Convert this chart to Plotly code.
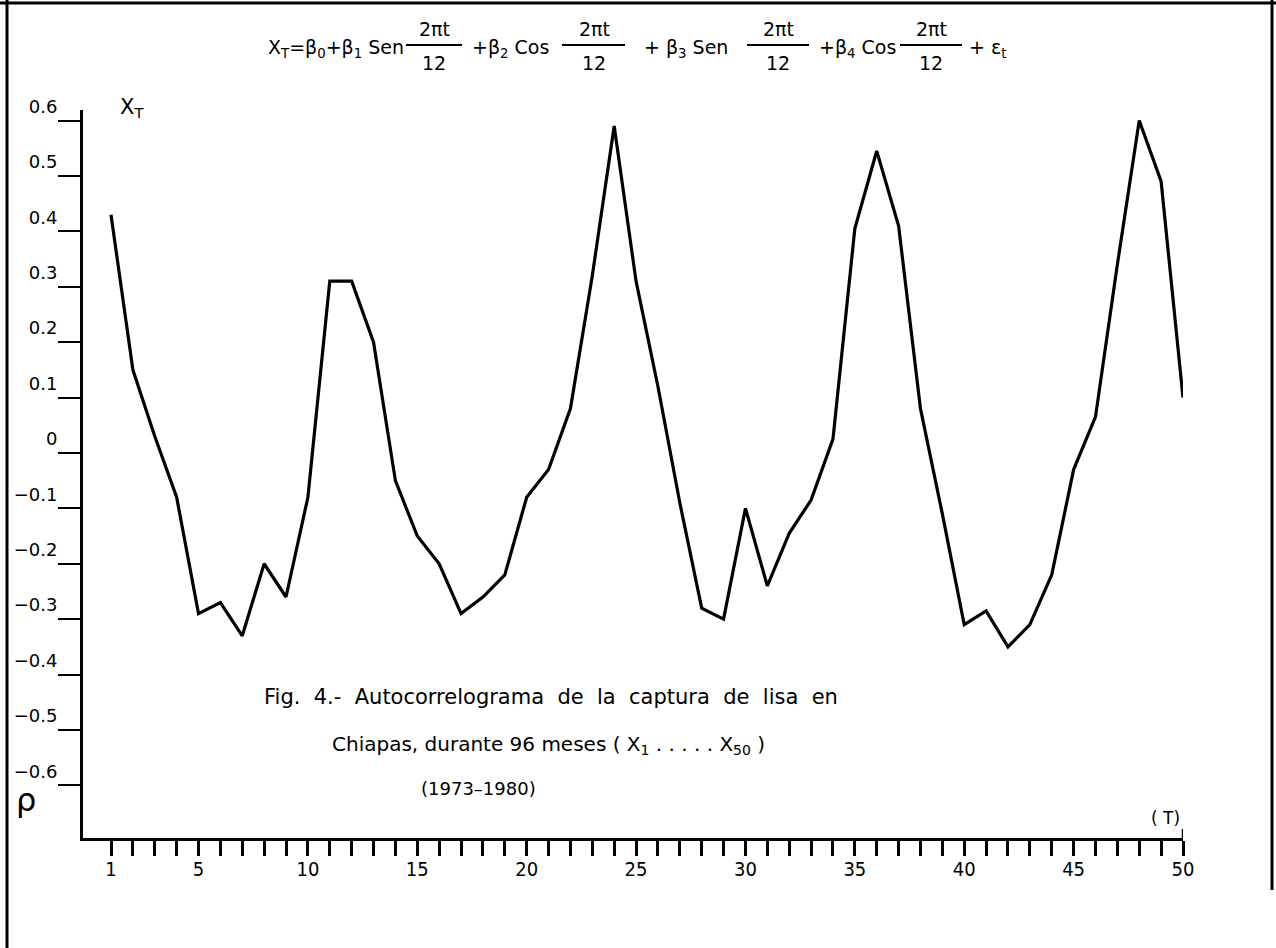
import plotly.graph_objects as go

# ---------------- data ----------------
t = list(range(1, 51))
xt = [0.43, 0.15, 0.03, -0.08, -0.29, -0.27, -0.33, -0.20, -0.26, -0.08,
      0.31, 0.31, 0.20, -0.05, -0.15, -0.20, -0.29, -0.26, -0.22, -0.08,
      -0.03, 0.08, 0.32, 0.59, 0.31, 0.12, -0.09, -0.28, -0.30, -0.10,
      -0.24, -0.145, -0.085, 0.025, 0.405, 0.545, 0.41, 0.08, -0.11, -0.31,
      -0.285, -0.35, -0.31, -0.22, -0.03, 0.065, 0.34, 0.60, 0.49, 0.10]

y_tickvals = [0.6, 0.5, 0.4, 0.3, 0.2, 0.1, 0, -0.1, -0.2, -0.3, -0.4, -0.5, -0.6]
y_ticktext = ["0.6", "0.5", "0.4", "0.3", "0.2", "0.1", "0", "\u22120.1", "\u22120.2",
              "\u22120.3", "\u22120.4", "\u22120.5", "\u22120.6"]
x_tickvals = list(range(1, 51))
x_labelled = [1, 5, 10, 15, 20, 25, 30, 35, 40, 45, 50]
x_ticktext = [str(v) if v in x_labelled else "" for v in x_tickvals]

# ---------------- layout geometry ----------------
W, H = 1276, 948
L, R, T, B = 83, 93, 110, 110
PW, PH = W - L - R, H - T - B
FONT = "DejaVu Sans Condensed, Liberation Sans Narrow, DejaVu Sans, sans-serif"
WIDE = "DejaVu Sans, Verdana, sans-serif"
NB = "\u00a0"


def px(x):
    return (x - L) / PW


def py(y):
    return (H - B - y) / PH


fig = go.Figure()
fig.add_trace(go.Scatter(x=t, y=xt, mode="lines",
                         line=dict(color="black", width=3.2),
                         cliponaxis=False, showlegend=False, hoverinfo="skip"))

annotations = []


def txt(text, x, y, size=20, xanchor="left", yanchor="middle", family=WIDE):
    annotations.append(dict(text=text, x=px(x), y=py(y), xref="paper", yref="paper",
                            showarrow=False, xanchor=xanchor, yanchor=yanchor,
                            font=dict(family=family, size=size, color="black")))


shapes = []


def hline(x0, x1, y, w=2):
    shapes.append(dict(type="line", xref="paper", yref="paper",
                       x0=px(x0), x1=px(x1), y0=py(y), y1=py(y),
                       line=dict(color="black", width=w)))


def vline(x, y0, y1, w=2):
    shapes.append(dict(type="line", xref="paper", yref="paper",
                       x0=px(x), x1=px(x), y0=py(y0), y1=py(y1),
                       line=dict(color="black", width=w)))


# formula (each piece centred where the reference has it)
txt("X<sub>T</sub>=\u03b2<sub>0</sub>+\u03b2<sub>1</sub> Sen", 336, 48, size=19, xanchor="center")
txt("+\u03b2<sub>2</sub> Cos", 510, 48, size=19, xanchor="center")
txt("+ \u03b2<sub>3</sub> Sen", 686, 48, size=19, xanchor="center")
txt("+\u03b2<sub>4</sub> Cos", 857, 48, size=19, xanchor="center")
txt("+ \u03b5<sub>t</sub>", 987, 48, size=19, xanchor="center")
for cx, x0, x1 in [(434, 406, 462), (594, 562, 625), (778, 747, 809), (931, 900, 962)]:
    txt("2\u03c0t", cx, 29, size=19, xanchor="center")
    txt("12", cx, 63, size=19, xanchor="center")
    hline(x0, x1, 45, 2)

# axis-side labels
txt("X<sub>T</sub>", 118, 108, size=21)
txt("\u03c1", 26, 800, size=32, xanchor="center")
txt("( T)", 1165, 818, size=17, xanchor="center")

# caption
cap1 = (NB * 2).join(["Fig.", "4.-", "Autocorrelograma", "de", "la", "captura", "de", "lisa", "en"])
txt(cap1, 262, 697, size=21)
txt("Chiapas, durante 96 meses ( X<sub>1</sub> . . . . . X<sub>50</sub> )", 330, 745, size=20)
txt("(1973\u20131980)", 478, 788, size=18, xanchor="center")

# scanned page frame
hline(0, W, 3, 3)
vline(7, 0, H, 3)
vline(1272, 0, 890, 3)
# small upward mark at T = 50 end of the axis
shapes.append(dict(type="line", xref="x", yref="paper", x0=50, x1=50,
                   y0=0, y1=py(H - B - 9), line=dict(color="black", width=2.5)))

fig.update_layout(
    width=W, height=H,
    margin=dict(l=L, r=R, t=T, b=B, pad=0),
    paper_bgcolor="white", plot_bgcolor="white",
    font=dict(family=FONT, color="black"),
    showlegend=False,
    annotations=annotations,
    shapes=shapes,
    xaxis=dict(range=[-0.28, 50], showgrid=False, zeroline=False,
               showline=True, linecolor="black", linewidth=3,
               ticks="outside", ticklen=15, tickwidth=2.5, tickcolor="black",
               tickmode="array", tickvals=x_tickvals, ticktext=x_ticktext,
               ticklabelstandoff=-4,
               tickfont=dict(family=FONT, size=20, color="black")),
    yaxis=dict(range=[-0.695, 0.619], showgrid=False, zeroline=False,
               showline=True, linecolor="black", linewidth=3,
               ticks="outside", ticklen=22, tickwidth=2, tickcolor="black",
               tickmode="array", tickvals=y_tickvals, ticktext=y_ticktext,
               ticklabelshift=-14, ticklabelstandoff=-3,
               tickfont=dict(family=WIDE, size=18, color="black")),
)

fig.write_html("out.html")
